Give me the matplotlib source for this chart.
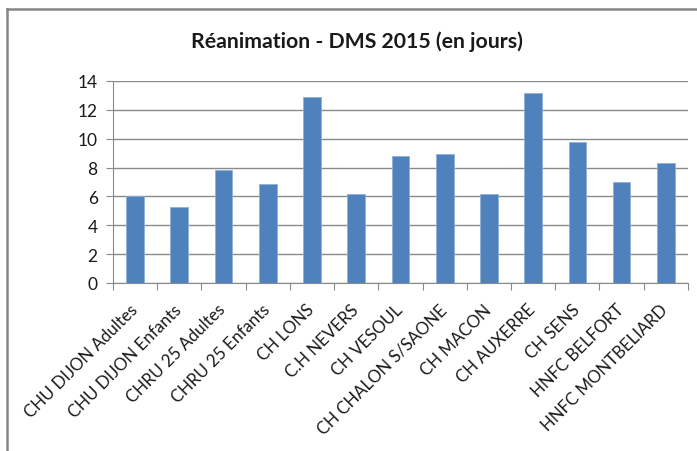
import numpy as np
import matplotlib
matplotlib.use('Agg')
import matplotlib.pyplot as plt
import matplotlib.transforms as mtransforms
from matplotlib.lines import Line2D

# donnees
etablissements = ['CHU DIJON Adultes', 'CHU DIJON Enfants', 'CHRU 25 Adultes',
                  'CHRU 25 Enfants', 'CH LONS', 'C.H NEVERS', 'CH VESOUL',
                  'CH CHALON S/SAONE', 'CH MACON', 'CH AUXERRE', 'CH SENS',
                  'HNFC BELFORT', 'HNFC MONTBELIARD']
dms = [6.0, 5.25, 7.85, 6.85, 12.87, 6.15, 8.82, 8.96, 6.15, 13.14, 9.79, 6.98, 8.34]
yticks = [0, 2, 4, 6, 8, 10, 12, 14]

plt.rcParams['font.family'] = ['Lato', 'DejaVu Sans']

fig = plt.figure(figsize=(6.97, 4.52), dpi=100)
ax = fig.add_axes([0.1621, 0.3717, 0.8249, 0.4469])

x = np.arange(len(etablissements))
ax.bar(x, dms, width=0.4, color='#4F81BD', edgecolor='#8fb0d8', linewidth=0.6, zorder=3)

ax.set_xlim(-0.5, len(etablissements) - 0.5)
ax.set_ylim(0, 14)
ax.set_yticks(yticks)
ax.set_yticklabels([str(v) for v in yticks], fontsize=12.5, color='#1a1a1a')
ax.yaxis.grid(True, color='#8a8a8a', linewidth=1.0, zorder=0)
ax.tick_params(axis='y', length=5, color='#8a8a8a', pad=6)

# ticks entre les categories
ax.set_xticks(np.arange(-0.5, len(etablissements), 1.0))
ax.set_xticklabels([])
ax.set_xticks(x, minor=True)
ax.set_xticklabels(etablissements, minor=True, rotation=45, ha='right',
                   rotation_mode='anchor', fontsize=12.2, color='#1a1a1a')
ax.tick_params(axis='x', which='major', length=5, color='#8a8a8a')
ax.tick_params(axis='x', which='minor', length=0, pad=13)

# petit decalage vers la gauche des etiquettes
decal = mtransforms.ScaledTranslation(-0.06, 0, fig.dpi_scale_trans)
for lab in ax.get_xticklabels(minor=True):
    lab.set_transform(lab.get_transform() + decal)

for s in ['top', 'right']:
    ax.spines[s].set_visible(False)
ax.spines['left'].set_color('#8a8a8a')
ax.spines['bottom'].set_color('#8a8a8a')

fig.text(0.512, 0.907, 'Réanimation - DMS 2015 (en jours)', ha='center', va='center',
         fontsize=15.3, fontweight='bold', color='#1a1a1a')

# cadre du graphique (haut et gauche)
fig.add_artist(Line2D([0.01, 1.0], [0.977, 0.977], color='#868686', linewidth=1.8, transform=fig.transFigure))
fig.add_artist(Line2D([0.0105, 0.0105], [0.0, 0.977], color='#868686', linewidth=1.8, transform=fig.transFigure))

fig.savefig('out.png', dpi=100)
